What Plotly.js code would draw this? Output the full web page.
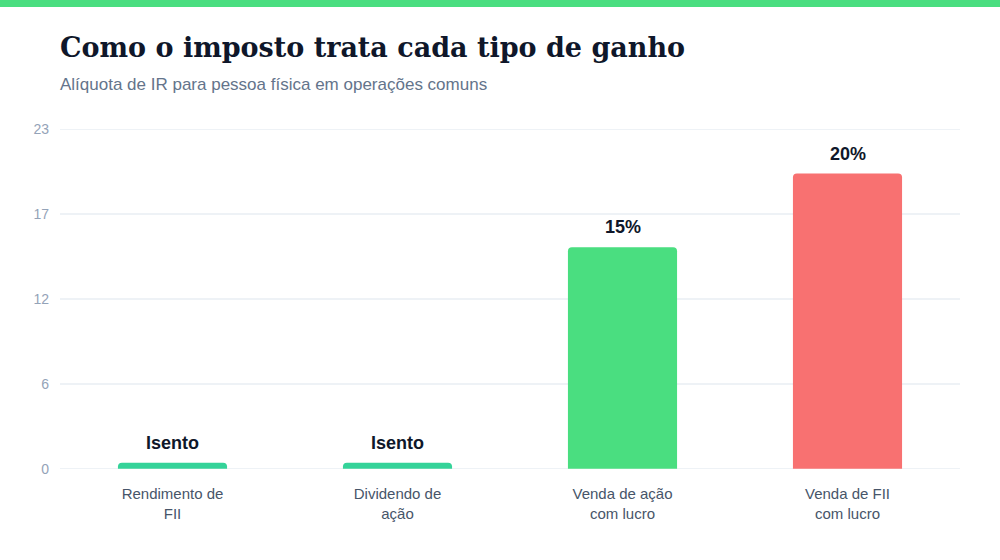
<!DOCTYPE html>
<html>
<head>
<meta charset="utf-8">
<script src="https://cdn.plot.ly/plotly-3.0.1.min.js"></script>
<style>
  html, body { margin: 0; padding: 0; background: #ffffff; }
  #wrap { position: relative; width: 1000px; height: 560px; }
  #topbar { position: absolute; left: 0; top: 0; width: 1000px; height: 7px; background: #4ade80; z-index: 5; }
  #chart { position: absolute; left: 0; top: 0; width: 1000px; height: 560px; }
</style>
</head>
<body>
<div id="wrap">
  <div id="topbar"></div>
  <div id="chart"></div>
</div>
<script>
const categories = ["Rendimento de<br>FII", "Dividendo de<br>ação", "Venda de ação<br>com lucro", "Venda de FII<br>com lucro"];
const rates = [0, 0, 15, 20];
const barValues = [0.4, 0.4, 15, 20];
const labels = ["Isento", "Isento", "15%", "20%"];
const barColors = ["#34d399", "#34d399", "#4ade80", "#f87171"];
const yTickVals = [0, 5.75, 11.5, 17.25, 23];
const yTickText = ["0", "6", "12", "17", "23"];

const trace = {
  type: "bar",
  x: categories,
  y: barValues,
  marker: { color: barColors, cornerradius: 4, line: { width: 0 } },
  hoverinfo: "skip"
};

const annotations = categories.map((c, i) => ({
  x: c, y: barValues[i], xref: "x", yref: "y",
  text: "<b>" + labels[i] + "</b>",
  showarrow: false, yanchor: "bottom", yshift: 8,
  font: { family: "Liberation Sans, Arial, sans-serif", size: 18, color: "#0f172a" }
}));

annotations.push({
  xref: "paper", yref: "paper", x: 0, y: 1,
  xanchor: "left", yanchor: "bottom", yshift: 64, xshift: -2,
  text: "<b>Como o imposto trata cada tipo de ganho</b>",
  showarrow: false,
  font: { family: "DejaVu Serif, Georgia, serif", size: 27, color: "#0f172a" }
});
annotations.push({
  xref: "paper", yref: "paper", x: 0, y: 1,
  xanchor: "left", yanchor: "bottom", yshift: 33, xshift: -2,
  text: "Alíquota de IR para pessoa física em operações comuns",
  showarrow: false,
  font: { family: "Liberation Sans, Arial, sans-serif", size: 17, color: "#64748b" }
});

// gridlines at the axis edges (Plotly omits them there)
const edgeShapes = [yTickVals[0], yTickVals[yTickVals.length - 1]].map(v => ({
  type: "line", xref: "paper", yref: "y", x0: 0, x1: 1, y0: v, y1: v,
  line: { color: "#eef2f6", width: 1.5 }, layer: "below"
}));

const layout = {
  width: 1000, height: 560,
  margin: { l: 60, r: 40, t: 129, b: 91 },
  paper_bgcolor: "#ffffff", plot_bgcolor: "#ffffff",
  showlegend: false,
  bargap: 0.515,
  xaxis: {
    tickfont: { family: "Liberation Sans, Arial, sans-serif", size: 15, color: "#475569" },
    showgrid: false, zeroline: false, showline: false, ticks: "",
    ticklabelstandoff: 14,
    fixedrange: true
  },
  yaxis: {
    range: [-0.02, 23.02],
    tickvals: yTickVals, ticktext: yTickText,
    tickfont: { family: "Liberation Sans, Arial, sans-serif", size: 14, color: "#94a3b8" },
    showgrid: true, gridcolor: "#eef2f6", gridwidth: 1.5,
    zeroline: false, showline: false, ticks: "", ticklabelstandoff: 10,
    fixedrange: true
  },
  shapes: edgeShapes,
  annotations: annotations
};

Plotly.newPlot("chart", [trace], layout, { displayModeBar: false, staticPlot: true });
</script>
</body>
</html>
